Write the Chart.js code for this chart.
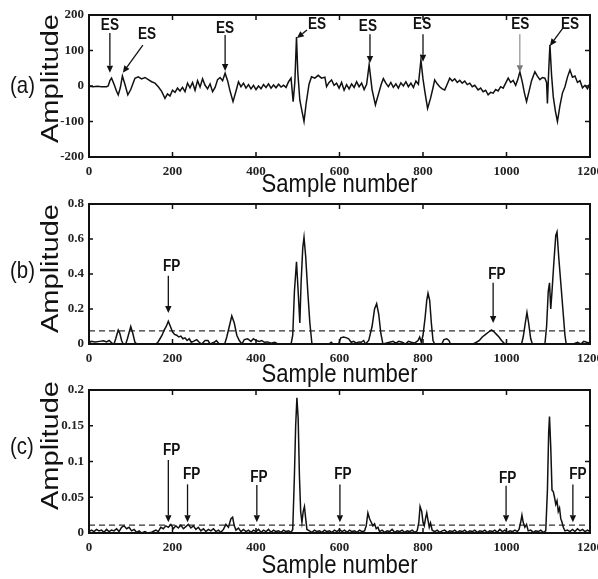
<!DOCTYPE html>
<html><head><meta charset="utf-8">
<script src="https://cdn.jsdelivr.net/npm/chart.js@4"></script>
<style>
html,body{margin:0;padding:0;background:#fff;width:598px;height:579px;overflow:hidden;}
canvas{position:absolute;left:0;}
</style></head><body>
<canvas id="ca" width="598" height="202" style="top:0px"></canvas>
<canvas id="cb" width="598" height="204" style="top:188px"></canvas>
<canvas id="cc" width="598" height="204" style="top:375px"></canvas>
<script>
// ---------- data ----------
const xTickStep = 200;
const sampleRange = [0, 1200];
const yRangeA = [-200, 200], yStepA = 100;
const yRangeB = [0, 0.8], yStepB = 0.2;
const yRangeC = [0, 0.2], yStepC = 0.05;
const thresholdB = 0.075;
const thresholdC = 0.011;

// panel (a): ECG signal [sample, amplitude]
const signalA = [[0,-1],[10,-2],[20,-1],[30,-2],[42,-2],[46,0],[50,15],[54,22],[60,5],[66,-15],[70,-25],[75,-5],[80,28],[86,5],[93,-25],[100,-10],[110,22],[118,26],[126,20],[134,24],[142,18],[150,12],[158,8],[166,-2],[174,-15],[182,-35],[188,-22],[194,-28],[200,-12],[206,-18],[212,-6],[218,-14],[224,-4],[230,-16],[236,8],[242,-5],[248,10],[254,-12],[260,15],[266,-3],[272,20],[278,2],[284,-8],[290,6],[296,-16],[302,-4],[308,18],[314,24],[320,15],[326,36],[332,15],[338,-15],[345,-44],[352,-15],[358,12],[364,-2],[370,8],[376,-6],[382,4],[388,-8],[394,2],[400,-10],[406,0],[412,-8],[418,4],[424,-4],[430,6],[436,-6],[442,3],[448,-5],[454,5],[460,-3],[466,2],[472,-4],[478,12],[484,22],[489,-44],[493,10],[497,138],[500,40],[505,-40],[510,-70],[515,-100],[520,-50],[527,5],[533,26],[541,22],[549,30],[557,22],[565,25],[569,-2],[575,10],[581,17],[587,2],[593,8],[599,-6],[605,10],[611,-12],[617,4],[623,-8],[629,6],[635,-4],[641,12],[647,-2],[653,8],[659,-10],[665,5],[671,60],[678,-10],[686,-53],[694,-20],[700,5],[705,21],[711,8],[717,-2],[723,10],[729,-4],[735,6],[741,-6],[747,9],[753,0],[759,12],[765,-2],[771,8],[777,-4],[783,14],[789,5],[795,73],[800,20],[805,-20],[811,-63],[818,-35],[824,-5],[828,17],[834,6],[840,-2],[846,-8],[852,-11],[858,5],[864,22],[870,14],[876,20],[882,10],[888,16],[894,8],[900,14],[906,4],[912,8],[918,-2],[924,2],[932,-11],[938,-6],[944,-16],[950,-12],[956,-25],[962,-18],[968,-20],[974,-10],[980,-14],[986,-2],[992,-6],[998,8],[1004,22],[1010,10],[1016,16],[1022,2],[1027,18],[1032,40],[1038,10],[1043,-20],[1048,-44],[1054,-15],[1060,15],[1068,40],[1074,28],[1080,18],[1086,24],[1092,22],[1096,10],[1098,-49],[1101,40],[1104,116],[1108,30],[1112,-30],[1117,-70],[1122,-100],[1128,-55],[1134,-20],[1140,-2],[1146,25],[1152,45],[1158,25],[1164,28],[1170,10],[1176,15],[1182,-5],[1188,2],[1194,-8],[1200,8]];

// panel (b)
const signalB = [[0,0.005],[5,0.015],[15,0.012],[25,0.015],[35,0.018],[42,0.012],[48,0.02],[55,0.005],[60,0],[64,0.03],[70,0.08],[74,0.06],[78,0.02],[82,0],[88,0],[92,0.03],[100,0.1],[105,0.06],[110,0.01],[115,0],[160,0],[165,0.01],[170,0.03],[175,0.05],[180,0.08],[185,0.1],[190,0.13],[195,0.1],[200,0.07],[205,0.055],[210,0.05],[215,0.04],[220,0.045],[225,0.03],[230,0.035],[235,0.02],[240,0.03],[245,0.01],[250,0.015],[258,0.025],[264,0.01],[270,0],[278,0.02],[285,0.02],[290,0],[300,0.01],[305,0.02],[312,0],[325,0],[330,0.04],[336,0.1],[342,0.16],[348,0.12],[354,0.05],[360,0.02],[366,0],[372,0.025],[380,0.03],[388,0.015],[394,0.03],[400,0.02],[408,0.015],[414,0.02],[420,0.01],[428,0.012],[436,0.005],[445,0.01],[452,0],[484,0],[488,0.05],[492,0.3],[497,0.47],[501,0.3],[505,0.12],[508,0.35],[512,0.55],[515,0.61],[519,0.5],[524,0.3],[529,0.12],[534,0],[575,0],[580,0.01],[585,0],[598,0],[603,0.035],[610,0.04],[617,0.035],[622,0.03],[628,0.01],[634,0.015],[640,0.005],[646,0.012],[652,0.01],[658,0.02],[662,0],[670,0.02],[678,0.1],[684,0.2],[689,0.23],[694,0.17],[699,0.06],[704,0],[720,0.01],[728,0.015],[735,0.005],[742,0.015],[750,0.01],[758,0],[765,0.015],[772,0.01],[780,0.005],[788,0.02],[792,0.04],[796,0.01],[800,0.05],[805,0.15],[809,0.25],[812,0.29],[816,0.25],[820,0.12],[824,0.02],[828,0],[845,0],[850,0.025],[857,0.03],[862,0.02],[866,0],[920,0],[928,0.01],[935,0.02],[942,0.04],[950,0.055],[958,0.07],[964,0.08],[970,0.07],[976,0.055],[982,0.04],[988,0.02],[994,0.005],[1000,0],[1036,0],[1040,0.04],[1045,0.12],[1049,0.18],[1053,0.12],[1058,0.03],[1062,0],[1092,0],[1096,0.1],[1100,0.3],[1103,0.35],[1106,0.2],[1109,0.3],[1113,0.45],[1118,0.62],[1121,0.64],[1125,0.5],[1130,0.35],[1135,0.2],[1140,0.05],[1143,0],[1160,0],[1170,0.01],[1178,0],[1185,0.015],[1192,0.01],[1200,0.005]];

// panel (c)
const signalC = [[0,0.002],[6,0.004],[12,0.002],[18,0.005],[24,0.003],[30,0.004],[36,0.001],[42,0.005],[48,0.002],[54,0.004],[60,0.003],[66,0.006],[72,0.002],[78,0.008],[84,0.01],[90,0.006],[96,0.008],[102,0.003],[108,0.005],[114,0.001],[120,0.003],[126,0],[134,0.002],[140,0],[150,0.001],[160,0.004],[166,0.002],[172,0.008],[178,0.006],[184,0.01],[190,0.008],[196,0.012],[202,0.006],[208,0.01],[214,0.007],[220,0.011],[226,0.006],[232,0.009],[238,0.012],[244,0.007],[250,0.01],[256,0.005],[262,0.008],[268,0.003],[274,0.006],[280,0.002],[286,0.005],[292,0.003],[298,0.006],[304,0.002],[310,0.004],[316,0.001],[322,0.005],[328,0.012],[334,0.008],[340,0.02],[344,0.022],[348,0.01],[352,0.004],[358,0.007],[364,0.002],[370,0.005],[376,0.002],[382,0.004],[388,0.001],[394,0.004],[400,0.002],[406,0.005],[412,0.001],[418,0.004],[424,0.002],[430,0.005],[436,0.001],[442,0.004],[448,0.002],[454,0.003],[460,0.001],[466,0.004],[472,0.002],[478,0.003],[484,0.001],[488,0.005],[492,0.08],[495,0.15],[498,0.189],[501,0.16],[504,0.08],[507,0.03],[510,0.015],[513,0.03],[516,0.037],[519,0.02],[522,0.005],[528,0.003],[534,0.001],[540,0.004],[546,0.002],[552,0.003],[558,0.001],[564,0.004],[570,0.002],[576,0.003],[582,0.001],[588,0.004],[594,0.002],[600,0.005],[606,0.002],[612,0.004],[618,0.001],[624,0.004],[630,0.002],[636,0.003],[642,0.001],[648,0.004],[654,0.002],[660,0.003],[664,0.01],[668,0.028],[672,0.02],[676,0.015],[680,0.01],[684,0.013],[688,0.006],[692,0.008],[696,0.002],[702,0.004],[708,0.001],[714,0.003],[720,0.002],[726,0.005],[732,0.001],[738,0.003],[744,0.002],[750,0.004],[756,0.001],[762,0.003],[768,0.002],[774,0.004],[780,0.001],[786,0.003],[790,0.015],[793,0.037],[797,0.03],[800,0.015],[803,0.01],[806,0.02],[809,0.028],[812,0.018],[815,0.008],[818,0.014],[822,0.004],[828,0.002],[834,0.004],[840,0.001],[846,0.003],[852,0.004],[858,0.001],[864,0.003],[870,0.002],[876,0.004],[882,0.001],[888,0.003],[894,0.002],[900,0.004],[906,0.001],[912,0.003],[918,0.002],[924,0.004],[930,0.001],[936,0.003],[942,0.002],[948,0.004],[954,0.001],[960,0.003],[966,0.002],[972,0.004],[978,0.001],[984,0.005],[990,0.002],[996,0.004],[1002,0.001],[1008,0.003],[1014,0.002],[1020,0.004],[1026,0.002],[1030,0.005],[1034,0.015],[1037,0.025],[1040,0.015],[1044,0.008],[1048,0.012],[1052,0.003],[1058,0.004],[1064,0.001],[1070,0.003],[1076,0.002],[1082,0.004],[1088,0.001],[1094,0.003],[1098,0.06],[1101,0.14],[1103,0.163],[1106,0.12],[1109,0.06],[1112,0.058],[1115,0.05],[1118,0.04],[1121,0.045],[1124,0.03],[1127,0.035],[1130,0.02],[1133,0.015],[1136,0.008],[1140,0.003],[1146,0.004],[1152,0.002],[1158,0.005],[1164,0.002],[1170,0.006],[1176,0.003],[1182,0.005],[1188,0.002],[1194,0.004],[1200,0.002]];

// annotations (data units): [labelX, labelY, fromX, fromY, toX, toY]
const esMarks = [[50,169,50,149,50,37],[139,144,129,115,81,37],[326,163,326,144,326,42],[546,172,522,158,498,135],[668,166,673,146,673,65],[798,172,800,146,800,68],[1033,172,1032,146,1032,39],[1152,172,1135,163,1104,113]];
const fpMarksB = [[198,0.44,190,0.39,190,0.177],[977,0.394,968,0.35,968,0.12]];
const fpMarksC = [[198,0.115,190,0.102,190,0.015],[246,0.081,236,0.068,236,0.015],[407,0.078,402,0.067,402,0.015],[608,0.081,601,0.068,601,0.015],[1003,0.076,999,0.066,999,0.015],[1171,0.081,1159,0.068,1159,0.015]];

// ---------- drawing ----------
const SQ = 0.85;
function sqText(ctx, text, x, y, font, align, base) {
  ctx.save(); ctx.translate(x, y); ctx.scale(SQ, 1);
  ctx.font = font; ctx.textAlign = align; ctx.textBaseline = base || 'alphabetic';
  ctx.fillText(text, 0, 0); ctx.restore();
}
function arrow(ctx, x1, y1, x2, y2, color, lw) {
  const ang = Math.atan2(y2 - y1, x2 - x1), L = 7, W = 3.2;
  const bx = x2 - L * Math.cos(ang), by = y2 - L * Math.sin(ang);
  ctx.strokeStyle = color; ctx.lineWidth = lw;
  ctx.beginPath(); ctx.moveTo(x1, y1); ctx.lineTo(bx, by); ctx.stroke();
  ctx.fillStyle = color; ctx.beginPath(); ctx.moveTo(x2, y2);
  ctx.lineTo(bx - W * Math.sin(ang), by + W * Math.cos(ang));
  ctx.lineTo(bx + W * Math.sin(ang), by - W * Math.cos(ang));
  ctx.closePath(); ctx.fill();
}
const deco = {
  id: 'deco',
  afterDraw(chart, args, o) {
    const ctx = chart.ctx, a = chart.chartArea, xs = chart.scales.x, ys = chart.scales.y;
    ctx.save();
    ctx.strokeStyle = '#111'; ctx.lineWidth = 2;
    ctx.strokeRect(a.left, a.top, a.right - a.left, a.bottom - a.top);
    ctx.lineWidth = 1.5; ctx.beginPath();
    xs.ticks.forEach(t => {
      const p = xs.getPixelForValue(t.value);
      if (p <= a.left + 1 || p >= a.right - 1) return;
      ctx.moveTo(p, a.bottom); ctx.lineTo(p, a.bottom - 5);
      ctx.moveTo(p, a.top); ctx.lineTo(p, a.top + 5);
    });
    ys.ticks.forEach(t => {
      const p = ys.getPixelForValue(t.value);
      if (p <= a.top + 1 || p >= a.bottom - 1) return;
      ctx.moveTo(a.left, p); ctx.lineTo(a.left + 4, p);
      ctx.moveTo(a.right, p); ctx.lineTo(a.right - 5, p);
    });
    ctx.stroke();
    ctx.fillStyle = '#111';
    sqText(ctx, 'Sample number', (a.left + a.right) / 2, a.bottom + o.xTitleOff, '26px "Liberation Sans", Arial, sans-serif', 'center');
    ctx.save(); ctx.translate(58, a.bottom - o.yTitleOff); ctx.rotate(-Math.PI / 2); ctx.scale(1, SQ);
    ctx.font = '29px "Liberation Sans", Arial, sans-serif'; ctx.textAlign = 'left'; ctx.textBaseline = 'alphabetic';
    ctx.fillText('Amplitude', 0, 0); ctx.restore();
    sqText(ctx, o.label, 10, a.top + o.labelOff, '24px "Liberation Sans", Arial, sans-serif', 'left', 'middle');
    (o.marks || []).forEach((m, i) => {
      const grey = i === o.greyIdx;
      arrow(ctx, xs.getPixelForValue(m[2]), ys.getPixelForValue(m[3]), xs.getPixelForValue(m[4]), ys.getPixelForValue(m[5]), grey ? '#777' : '#111', grey ? 1 : 1.3);
      ctx.fillStyle = '#111';
      sqText(ctx, o.markText, xs.getPixelForValue(m[0]), ys.getPixelForValue(m[1]), 'bold 16px "Liberation Sans", Arial, sans-serif', 'center', 'middle');
    });
    ctx.restore();
  }
};
const tickFont = { family: '"Liberation Serif", "Times New Roman", serif', size: 13, weight: 'bold' };
function pts(arr) { return arr.map(p => ({ x: p[0], y: p[1] })); }
function makeChart(id, sig, thr, yr, ys, cfg) {
  const ds = [{ data: pts(sig), borderColor: '#111', borderWidth: 1.5, pointRadius: 0, tension: 0 }];
  if (thr !== null) ds.push({ data: [{ x: sampleRange[0], y: thr }, { x: sampleRange[1], y: thr }], borderColor: '#333', borderWidth: 1.4, borderDash: [6, 4], pointRadius: 0 });
  return new Chart(document.getElementById(id), {
    type: 'line',
    data: { datasets: ds },
    options: {
      responsive: false, animation: false, events: [],
      layout: { padding: { left: 0, top: cfg.top, right: 8, bottom: 0 } },
      plugins: { legend: { display: false }, tooltip: { enabled: false }, deco: cfg.deco },
      scales: {
        x: { type: 'linear', min: sampleRange[0], max: sampleRange[1],
          ticks: { stepSize: xTickStep, font: tickFont, color: '#222', padding: 7, maxRotation: 0, autoSkip: false,
            callback: v => String(v) },
          grid: { display: false, drawTicks: false }, border: { display: false },
          afterFit(s) { s.height = cfg.xh; s.paddingLeft = 0; s.paddingRight = 0; } },
        y: { type: 'linear', min: yr[0], max: yr[1],
          ticks: { stepSize: ys, font: tickFont, color: '#222', padding: 5,
            callback: v => String(+(+v).toFixed(2)) },
          grid: { display: false, drawTicks: false }, border: { display: false },
          afterFit(s) { s.width = 89; s.paddingTop = 0; s.paddingBottom = 0; } }
      }
    },
    plugins: [deco]
  });
}
makeChart('ca', signalA, null, yRangeA, yStepA, { top: 15, xh: 45,
  deco: { label: '(a)', labelOff: 71, xTitleOff: 35, yTitleOff: 14, marks: esMarks, markText: 'ES', greyIdx: 6 } });
makeChart('cb', signalB, thresholdB, yRangeB, yStepB, { top: 16, xh: 48,
  deco: { label: '(b)', labelOff: 67, xTitleOff: 38, yTitleOff: 11, marks: fpMarksB, markText: 'FP', greyIdx: -1 } });
makeChart('cc', signalC, thresholdC, yRangeC, yStepC, { top: 15, xh: 46,
  deco: { label: '(c)', labelOff: 57, xTitleOff: 40, yTitleOff: 23, marks: fpMarksC, markText: 'FP', greyIdx: -1 } });
</script>
</body></html>
